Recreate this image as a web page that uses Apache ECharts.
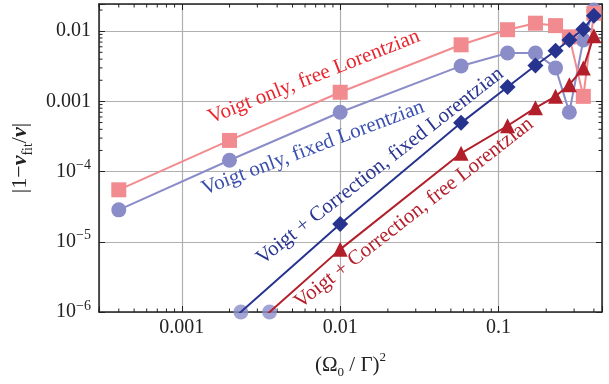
<!DOCTYPE html>
<html>
<head>
<meta charset="utf-8">
<script src="https://cdn.jsdelivr.net/npm/echarts@6/dist/echarts.min.js"></script>
<style>
  html, body { margin: 0; padding: 0; background: #fff; }
  #chart { width: 609px; height: 384px; }
</style>
</head>
<body>
<div id="chart"></div>
<script>
// x values shared by all four curves, (Omega0/Gamma)^2
var xValues = [0.0004, 0.002, 0.01, 0.058, 0.114, 0.171, 0.229, 0.28, 0.343, 0.40];
// |1 - nu_fit/nu| for each fit model ('-' = not plotted)
var voigtFree = [5.5e-5, 2.78e-4, 1.35e-3, 6.4e-3, 0.0105, 0.013, 0.012, 0.0083, 1.18e-3, 0.018];
var voigtFixed = [2.85e-5, 1.45e-4, 7.0e-4, 3.2e-3, 4.9e-3, 4.9e-3, 3.0e-3, 7.0e-4, 7.5e-3, 0.020];
var corrFixed = ['-', 7.2e-7, 1.79e-5, 4.95e-4, 1.6e-3, 3.25e-3, 5.26e-3, 7.5e-3, 0.0107, 0.0166];
var corrFree = ['-', 3.1e-7, 7.8e-6, 1.82e-4, 4.5e-4, 8.1e-4, 1.18e-3, 1.73e-3, 2.98e-3, 8.6e-3];
// markers where the correction curves leave the bottom of the frame
var edgeX = [0.00236, 0.00358];
var edgeY = [1e-6, 1e-6];

var xMin = 0.0003, xMax = 0.45;
var yMin = 1e-6, yMax = 0.0244;
var xTicks = [0.001, 0.01, 0.1];
var xTickLabels = ['0.001', '0.01', '0.1'];
var yTicks = [1e-6, 1e-5, 1e-4, 1e-3, 1e-2];
var yTickLabels = ['{b|10}{s|\u22126}', '{b|10}{s|\u22125}', '{b|10}{s|\u22124}', '0.001', '0.01'];

var serif = '"Liberation Serif", "DejaVu Serif", serif';
var ink = '#222';

function pairs(ys) {
  return xValues.map(function (x, i) { return [x, ys[i]]; });
}
function findLabel(v, ticks, labels) {
  for (var i = 0; i < ticks.length; i++) {
    if (Math.abs(Math.log10(v) - Math.log10(ticks[i])) < 1e-6) return labels[i];
  }
  return '';
}

var chart = echarts.init(document.getElementById('chart'));

var frameAxis = {
  type: 'log',
  logBase: 10,
  axisLine: { show: true, lineStyle: { color: ink, width: 1.5 } },
  axisTick: { show: true, inside: true, length: 6, lineStyle: { color: ink, width: 1 } },
  splitLine: { show: false },
  axisLabel: { show: false }
};

chart.setOption({
  animation: false,
  grid: { left: 99, right: 7, top: 4, bottom: 71 },
  xAxis: [
    Object.assign({}, frameAxis, {
      position: 'bottom',
      min: xMin, max: xMax,
      splitLine: { show: true, lineStyle: { color: '#b0b0b0', width: 1.2 } },
      axisLabel: {
        show: true, margin: 6, color: ink, fontFamily: serif, fontSize: 20,
        formatter: function (v) { return findLabel(v, xTicks, xTickLabels); }
      },
      name: '{n|(\u03a9}{d|0}{n| / \u0393)}{u|2}',
      nameLocation: 'middle',
      nameGap: 39,
      nameTextStyle: {
        color: ink, fontFamily: serif,
        rich: {
          n: { fontSize: 21, fontFamily: serif, color: ink, lineHeight: 28 },
          d: { fontSize: 13, fontFamily: serif, color: ink, lineHeight: 13, verticalAlign: 'bottom' },
          u: { fontSize: 13, fontFamily: serif, color: ink, lineHeight: 13, verticalAlign: 'top' }
        }
      }
    }),
    Object.assign({}, frameAxis, { position: 'top', min: xMin, max: xMax })
  ],
  yAxis: [
    Object.assign({}, frameAxis, {
      position: 'left',
      min: yMin, max: yMax,
      splitLine: { show: true, lineStyle: { color: '#b0b0b0', width: 1.2 } },
      axisLabel: {
        show: true, margin: 8, color: ink, fontFamily: serif, fontSize: 20,
        formatter: function (v) { return findLabel(v, yTicks, yTickLabels); },
        rich: {
          b: { fontSize: 20, fontFamily: serif, color: ink, lineHeight: 26 },
          s: { fontSize: 14, fontFamily: serif, color: ink, lineHeight: 14, verticalAlign: 'top' }
        }
      },
      name: '{n||1\u2212}{v|\u03bd}{d|fit}{n|/}{v|\u03bd}{n||}',
      nameLocation: 'middle',
      nameRotate: 90,
      nameGap: 58,
      nameTextStyle: {
        color: ink, fontFamily: serif,
        rich: {
          n: { fontSize: 22, fontFamily: serif, color: ink, lineHeight: 30 },
          v: { fontSize: 22, fontFamily: serif, color: ink, lineHeight: 30, fontStyle: 'italic', fontWeight: 'bold' },
          d: { fontSize: 14, fontFamily: serif, color: ink, lineHeight: 14, verticalAlign: 'bottom' }
        }
      }
    }),
    Object.assign({}, frameAxis, { position: 'right', min: yMin, max: yMax })
  ],
  graphic: [
    { type: 'text', x: 314, y: 77, rotation: 21.5 * Math.PI / 180, z: 100,
      style: { text: 'Voigt only, free Lorentzian', fill: '#E8262E', font: '21px ' + serif, align: 'center', verticalAlign: 'middle' } },
    { type: 'text', x: 313, y: 148, rotation: 20.7 * Math.PI / 180, z: 100,
      style: { text: 'Voigt only, fixed Lorentzian', fill: '#3A4FB0', font: '21px ' + serif, align: 'center', verticalAlign: 'middle' } },
    { type: 'text', x: 380, y: 166, rotation: 38 * Math.PI / 180, z: 100,
      style: { text: 'Voigt + Correction, fixed Lorentzian', fill: '#2A3592', font: '21px ' + serif, align: 'center', verticalAlign: 'middle' } },
    { type: 'text', x: 414, y: 213, rotation: 38 * Math.PI / 180, z: 100,
      style: { text: 'Voigt + Correction, free Lorentzian', fill: '#B5202C', font: '21px ' + serif, align: 'center', verticalAlign: 'middle' } }
  ],
  series: [
    {
      // minor log ticks on all four sides of the frame
      type: 'custom',
      silent: true,
      z: 1,
      data: [[xMin, yMin]],
      renderItem: function (params, api) {
        var cs = params.coordSys;
        var kids = [];
        var style = { stroke: ink, lineWidth: 1 };
        var len = 3.5;
        for (var k = -4; k <= 0; k++) {
          for (var m = 2; m <= 9; m++) {
            var v = m * Math.pow(10, k);
            if (v > xMin && v < xMax) {
              var px = api.coord([v, yMin])[0];
              kids.push({ type: 'line', shape: { x1: px, y1: cs.y + cs.height, x2: px, y2: cs.y + cs.height - len }, style: style });
              kids.push({ type: 'line', shape: { x1: px, y1: cs.y, x2: px, y2: cs.y + len }, style: style });
            }
            if (v > yMin && v < yMax) {
              var py = api.coord([xMin, v])[1];
              kids.push({ type: 'line', shape: { x1: cs.x, y1: py, x2: cs.x + len, y2: py }, style: style });
              kids.push({ type: 'line', shape: { x1: cs.x + cs.width, y1: py, x2: cs.x + cs.width - len, y2: py }, style: style });
            }
          }
        }
        return { type: 'group', children: kids };
      }
    },
    {
      type: 'line', name: 'Voigt only, fixed Lorentzian',
      data: pairs(voigtFixed), z: 2,
      symbol: 'circle', symbolSize: 15,
      lineStyle: { color: '#8B8DC9', width: 2 },
      itemStyle: { color: '#8B8DC9' }
    },
    {
      type: 'scatter',
      data: edgeX.map(function (x, i) { return [x, edgeY[i]]; }), z: 2,
      symbol: 'circle', symbolSize: 15,
      itemStyle: { color: '#8B8DC9' }
    },
    {
      type: 'line', name: 'Voigt only, free Lorentzian',
      data: pairs(voigtFree), z: 3,
      symbol: 'rect', symbolSize: 15,
      lineStyle: { color: '#F28B8F', width: 2 },
      itemStyle: { color: '#F28B8F' }
    },
    {
      type: 'line', name: 'Voigt + Correction, free Lorentzian',
      data: pairs(corrFree), z: 4,
      symbol: 'triangle', symbolSize: 15,
      lineStyle: { color: '#B21F2A', width: 2 },
      itemStyle: { color: '#B21F2A' }
    },
    {
      type: 'line', name: 'Voigt + Correction, fixed Lorentzian',
      data: pairs(corrFixed), z: 5,
      symbol: 'diamond', symbolSize: 16,
      lineStyle: { color: '#27348F', width: 2 },
      itemStyle: { color: '#27348F' }
    }
  ]
});
</script>
</body>
</html>
